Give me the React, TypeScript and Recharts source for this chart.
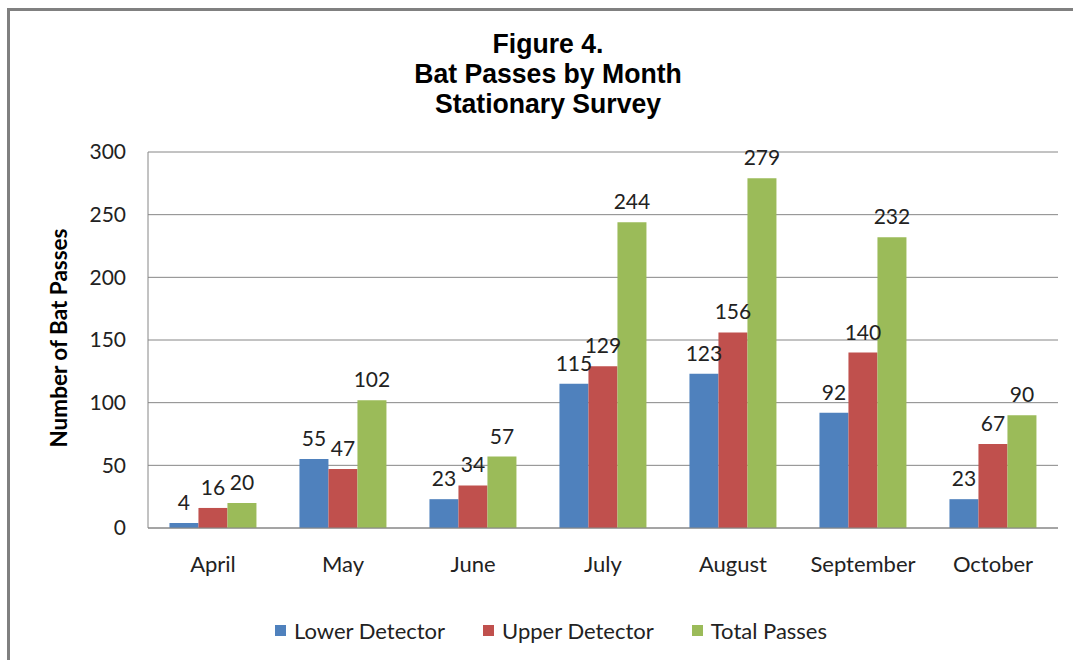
import React from 'react';
import { BarChart, Bar, XAxis, YAxis, CartesianGrid, LabelList } from 'recharts';

const months = ['April', 'May', 'June', 'July', 'August', 'September', 'October'];
const lowerDetector = [4, 55, 23, 115, 123, 92, 23];
const upperDetector = [16, 47, 34, 129, 156, 140, 67];
const totalPasses = [20, 102, 57, 244, 279, 232, 90];
const yTicks = [0, 50, 100, 150, 200, 250, 300];

const series = [
  { key: 'lower', name: 'Lower Detector', color: '#4F81BD' },
  { key: 'upper', name: 'Upper Detector', color: '#C0504D' },
  { key: 'total', name: 'Total Passes', color: '#9BBB59' },
];

const data = months.map((month, i) => ({
  month,
  lower: lowerDetector[i],
  upper: upperDetector[i],
  total: totalPasses[i],
}));

const FONT = "Lato, 'Noto Sans', sans-serif";
const TITLE_FONT = "'Liberation Sans', Arial, sans-serif";

export default function App() {
  return (
    <div style={{ position: 'absolute', left: 0, top: 0, width: 1073, height: 660, background: '#fff', overflow: 'hidden' }}>
      <div style={{ position: 'absolute', left: 7, top: 8, width: 1200, height: 700, borderLeft: '3px solid #808080', borderTop: '3px solid #808080' }} />
      <div style={{ position: 'absolute', left: 0, top: 29, width: 1096, textAlign: 'center', fontFamily: TITLE_FONT, fontWeight: 'bold', fontSize: 28, lineHeight: '30px', color: '#000', transform: 'scaleX(0.95)', transformOrigin: '548px 0' }}>
        <div>Figure 4.</div>
        <div>Bat Passes by Month</div>
        <div>Stationary Survey</div>
      </div>
      <div style={{ position: 'absolute', left: 58, top: 338, transform: 'translate(-50%, -50%) rotate(-90deg)', whiteSpace: 'nowrap', fontFamily: FONT, fontWeight: 'bold', fontSize: 22.5, color: '#000' }}>
        Number of Bat Passes
      </div>
      <BarChart
        width={1073}
        height={660}
        data={data}
        margin={{ top: 152, right: 15, left: 0, bottom: 72 }}
        barCategoryGap="16.5%"
        barGap={0}
        style={{ position: 'absolute', left: 0, top: 0 }}
      >
        <CartesianGrid vertical={false} stroke="#868686" />
        <XAxis
          dataKey="month"
          height={60}
          tickLine={false}
          tickSize={0}
          tickMargin={28}
          axisLine={{ stroke: '#868686' }}
          tick={{ fill: '#222', fontSize: 22, fontFamily: FONT }}
        />
        <YAxis
          width={148}
          domain={[0, 300]}
          ticks={yTicks}
          tickLine={false}
          tickSize={0}
          tickMargin={22}
          axisLine={{ stroke: '#868686' }}
          tick={{ fill: '#222', fontSize: 21, fontFamily: FONT }}
        />
        {series.map((s) => (
          <Bar key={s.key} dataKey={s.key} name={s.name} fill={s.color} isAnimationActive={false}>
            <LabelList dataKey={s.key} position="top" offset={13} style={{ fill: '#222', fontSize: 21, fontFamily: FONT }} />
          </Bar>
        ))}
      </BarChart>
      <div style={{ position: 'absolute', left: 0, top: 617, width: 1102, display: 'flex', justifyContent: 'center', gap: 38, fontFamily: FONT, fontSize: 22, color: '#222' }}>
        {series.map((s) => (
          <div key={s.key} style={{ display: 'flex', alignItems: 'center', gap: 8 }}>
            <span style={{ display: 'inline-block', width: 11, height: 11, background: s.color }} />
            <span>{s.name}</span>
          </div>
        ))}
      </div>
    </div>
  );
}
